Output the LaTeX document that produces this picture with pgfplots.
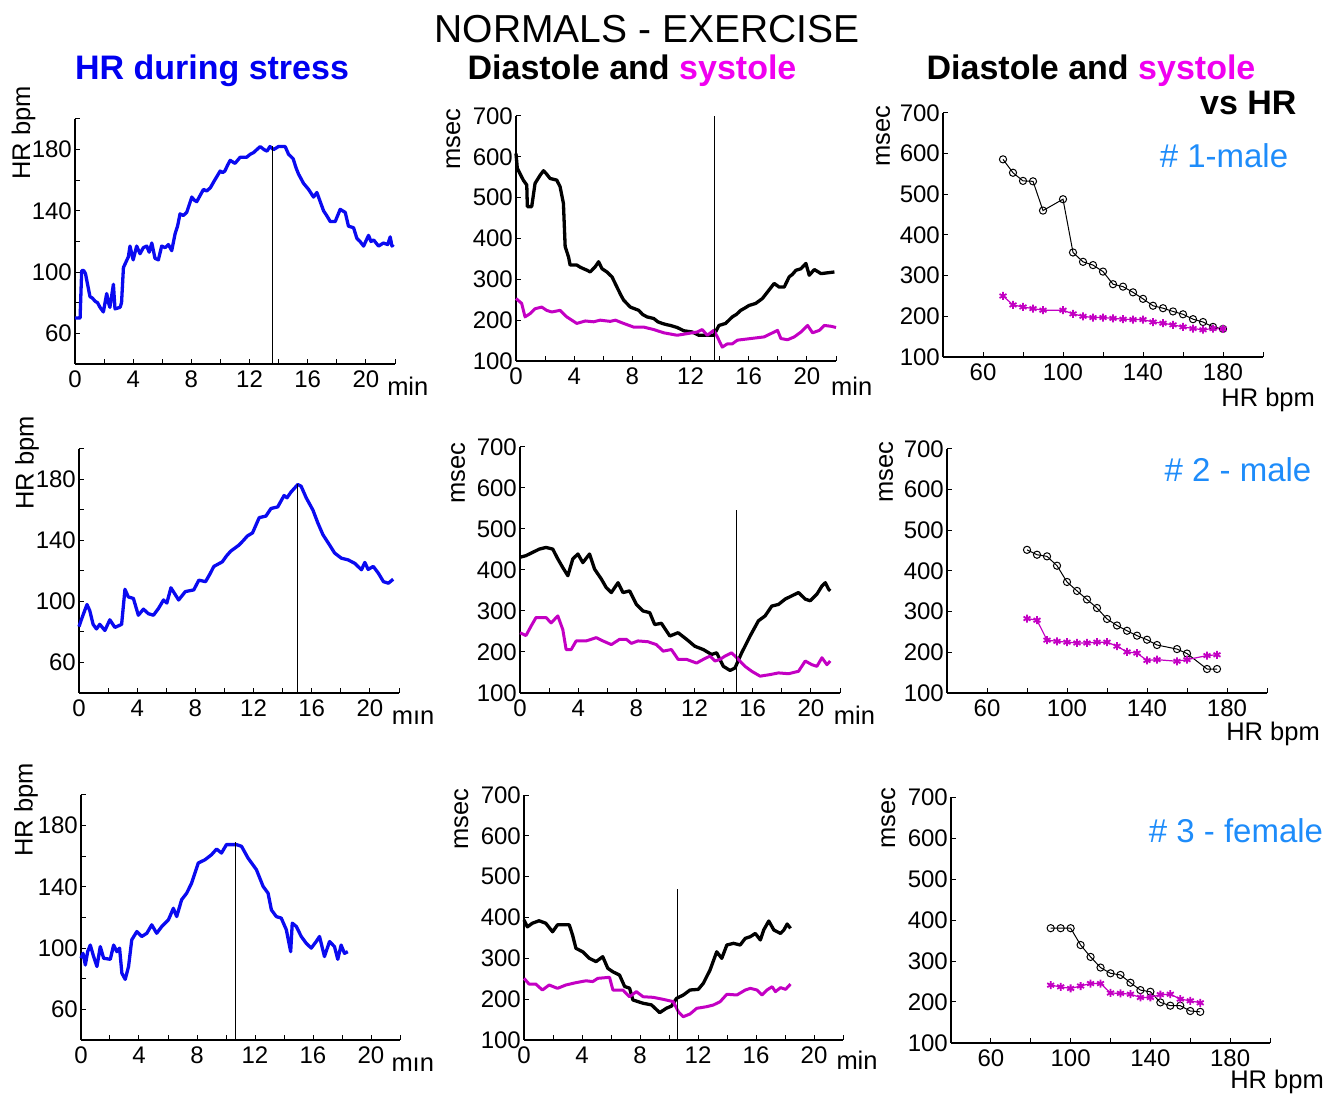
\documentclass[border=0pt]{standalone}
\usepackage{fontspec}
\setmainfont{Liberation Sans}
\usepackage{pgfplots}
\pgfplotsset{compat=1.18}
\definecolor{trblue}{RGB}{10,10,240}
\definecolor{trmag}{RGB}{195,0,195}
\definecolor{labmag}{RGB}{240,0,240}
\definecolor{annblue}{RGB}{30,140,250}
\definecolor{headblue}{RGB}{0,0,240}
\pgfplotsset{
 base/.style={scale only axis, anchor=south west, axis x line=bottom, axis y line=left,
   axis line style={-, line width=1.1pt, black}, tick align=inside,
   major tick length=5pt, minor tick length=5pt, tick style={black, line width=1pt},
   tick label style={font=\fontsize{24}{26}\selectfont},
   /pgf/number format/assume math mode=true,
   xticklabel style={inner sep=0pt, yshift=-7pt},
   yticklabel style={inner sep=0pt, xshift=-3pt},
   label style={font=\fontsize{25.5}{27}\selectfont}, clip=false},
 hr/.style={base, width=320pt, height=245pt, xmin=0, xmax=22, ymin=40, ymax=200,
   xtick={0,4,...,20}, minor xtick={2,6,...,22}, ytick={60,100,140,180}, minor ytick={80,120,160,200}},
 ms/.style={base, width=320pt, height=245pt, xmin=0, xmax=22, ymin=100, ymax=700,
   xtick={0,4,...,20}, minor xtick={2,6,...,22}, ytick={100,200,...,700}},
 vs/.style={base, width=320pt, height=245pt, xmin=40, xmax=200, ymin=100, ymax=700,
   xtick={60,100,140,180}, minor xtick={80,120,160,200}, ytick={100,200,...,700}},
 hrline/.style={trblue, line width=3.3pt, line join=round},
 dline/.style={black, line width=3.3pt, line join=round},
 sline/.style={trmag, line width=3pt, line join=round},
 vline/.style={black, line width=1pt},
 dmark/.style={black, line width=1pt, mark=o, mark size=3.6pt},
 smark/.style={trmag, line width=1.2pt, mark=asterisk, mark size=4pt, every mark/.append style={line width=1.8pt}},
}
\begin{document}
\begin{tikzpicture}
\useasboundingbox (0,0) rectangle (1339pt,1095pt);
% titles
\node[anchor=base, font=\fontsize{39}{42}\selectfont] at (647pt,1052pt) {NORMALS - EXERCISE};
\node[anchor=base, font=\fontsize{34}{36}\selectfont\bfseries, text=headblue] at (212pt,1015pt) {HR during stress};
\node[anchor=base, font=\fontsize{34}{36}\selectfont\bfseries] at (632pt,1015pt) {Diastole and \textcolor{labmag}{systole}};
\node[anchor=base, font=\fontsize{34}{36}\selectfont\bfseries] at (1091pt,1015pt) {Diastole and \textcolor{labmag}{systole}};
\node[anchor=base east, font=\fontsize{34}{36}\selectfont\bfseries] at (1300pt,980pt) {vs HR};
\node[anchor=base, font=\fontsize{33}{36}\selectfont, text=annblue] at (1224pt,927pt) {\# 1-male};
\node[anchor=base, font=\fontsize{33}{36}\selectfont, text=annblue] at (1238pt,613pt) {\# 2 - male};
\node[anchor=base, font=\fontsize{33}{36}\selectfont, text=annblue] at (1236pt,252pt) {\# 3 - female};

% ---------- Row 1 ----------
\begin{axis}[hr, at={(75pt,731pt)},
  xlabel={min}, xlabel style={at={(axis description cs:1.04,-0.13)}, anchor=base},
  ylabel={HR bpm}, ylabel style={at={(axis description cs:-0.14,0.943)}, anchor=base}]
\addplot[hrline] coordinates {(0,70)(0.35,70)(0.46,101)(0.6,101)(0.72,99)(1.03,84)(1.2,83)(1.38,81)(1.55,80)(1.72,77)(1.95,74)(2.18,86)(2.3,80)(2.4,77)(2.64,92)(2.75,76)(3.1,77)(3.2,80)(3.33,103)(3.67,110)(3.78,117)(4.0,108)(4.24,117)(4.47,112)(4.7,116)(4.93,117)(5.1,113)(5.28,119)(5.5,109)(5.73,108)(5.96,117)(6.2,116)(6.42,118)(6.65,114)(6.88,125)(7.05,130)(7.22,138)(7.45,137)(7.68,139)(8.03,149)(8.2,147)(8.37,146)(8.6,150)(8.83,154)(9.05,153)(9.3,155)(9.6,160)(9.98,166)(10.15,165)(10.3,166)(10.5,170)(10.67,173)(11.0,171)(11.35,175)(11.8,175)(12.05,177)(12.27,178)(12.5,180)(12.73,182)(13.0,180)(13.2,179)(13.4,182)(13.65,180)(13.99,182)(14.45,182)(14.68,177)(15.0,174)(15.2,168)(15.37,164)(15.71,158)(16.06,154)(16.4,149)(16.63,152)(16.86,146)(17.09,140)(17.3,137)(17.55,133)(17.89,133)(18.23,141)(18.58,139)(18.8,130)(19.15,129)(19.38,122)(19.6,120)(19.84,117)(20.18,124)(20.35,120)(20.53,121)(20.87,117)(21.2,119)(21.5,118)(21.67,123)(21.79,117)(21.9,118)};
\addplot[vline] coordinates {(13.6,40)(13.6,182.5)};
\end{axis}

\begin{axis}[ms, at={(516pt,734pt)},
  xlabel={min}, xlabel style={at={(axis description cs:1.049,-0.139)}, anchor=base},
  ylabel={msec}, ylabel style={at={(axis description cs:-0.175,0.906)}, anchor=base}]
\addplot[dline] coordinates {(0,608)(0.09,572)(0.5,543)(0.74,531)(0.78,478)(1.08,478)(1.31,535)(1.66,555)(1.89,566)(2.1,558)(2.34,547)(2.8,543)(3.03,527)(3.26,486)(3.38,380)(3.61,355)(3.72,335)(4.18,335)(4.4,330)(4.64,326)(4.9,322)(5.1,318)(5.45,331)(5.68,343)(5.91,326)(6.25,318)(6.6,306)(6.94,281)(7.2,262)(7.4,249)(7.86,232)(8.15,228)(8.44,224)(8.7,214)(9.01,208)(9.47,204)(9.75,196)(10.05,192)(10.35,189)(10.62,187)(11.08,182)(11.54,174)(12.11,171)(12.57,163)(13.15,163)(13.6,163)(13.95,187)(14.41,192)(14.87,208)(15.15,214)(15.45,224)(15.75,230)(16.02,236)(16.48,241)(16.94,253)(17.29,269)(17.75,290)(18.09,281)(18.44,281)(18.78,306)(19.0,312)(19.24,322)(19.59,326)(19.93,339)(20.16,310)(20.51,324)(20.97,314)(21.43,316)(21.89,318)};
\addplot[sline] coordinates {(0,253)(0.39,241)(0.62,208)(0.97,216)(1.31,228)(1.77,232)(2.11,224)(2.46,220)(3.03,224)(3.49,208)(4.18,192)(4.76,198)(5.33,196)(5.79,200)(6.48,197)(6.83,200)(7.4,192)(8.09,183)(8.78,183)(9.47,177)(10.16,169)(11.08,163)(11.77,167)(12.46,171)(12.8,177)(13.15,163)(13.6,175)(13.84,159)(14.18,134)(14.53,142)(14.87,142)(15.22,151)(16.14,155)(17.06,159)(17.98,175)(18.21,155)(18.67,152)(19.13,159)(19.59,171)(20.05,187)(20.39,169)(20.85,175)(21.2,187)(21.66,185)(22.0,182)};
\addplot[vline] coordinates {(13.66,100)(13.66,700)};
\end{axis}

\begin{axis}[vs, at={(943pt,738pt)}, height=244pt,
  xlabel={HR bpm}, xlabel style={at={(axis description cs:1.016,-0.204)}, anchor=base},
  ylabel={msec}, ylabel style={at={(axis description cs:-0.166,0.906)}, anchor=base}]
\addplot[dmark] coordinates {(70,586)(75,553)(80,533)(85,532)(90,460)(100,488)(105,357)(110,334)(115,326)(120,310)(125,279)(130,273)(135,259)(140,243)(145,226)(150,220)(155,212)(160,205)(165,193)(170,186)(175,174)(180,169)};
\addplot[smark] coordinates {(70,250)(75,228)(80,223)(85,219)(90,215)(100,215)(105,206)(110,200)(115,197)(120,197)(125,195)(130,193)(135,192)(140,192)(145,186)(150,183)(155,179)(160,174)(165,170)(170,167)(175,170)(180,169)};
\end{axis}

% ---------- Row 2 ----------
\begin{axis}[hr, at={(79pt,402pt)}, height=244pt,
  xlabel={mın}, xlabel style={at={(axis description cs:1.044,-0.131)}, anchor=base},
  ylabel={HR bpm}, ylabel style={at={(axis description cs:-0.142,0.943)}, anchor=base}]
\addplot[hrline] coordinates {(0,83.5)(0.16,88)(0.39,94)(0.55,98)(0.74,94)(0.97,85)(1.2,82)(1.43,85)(1.78,81)(2.12,88)(2.47,83)(2.93,85)(3.16,108)(3.39,103)(3.74,102)(4.08,91)(4.43,95)(4.77,92)(5.12,91)(5.47,95.5)(5.81,101)(6.04,99)(6.32,109)(6.85,101)(7.31,106.5)(7.89,107.6)(8.24,114)(8.7,113)(9.0,118)(9.27,123)(9.85,126)(10.15,130)(10.43,133)(11.0,137)(11.3,140)(11.58,143)(11.93,145)(12.39,155)(12.85,156)(13.2,161)(13.66,162)(14.1,169.5)(14.3,168)(14.57,171.7)(15.04,176.7)(15.27,175.6)(15.62,168)(16.08,160)(16.42,151.5)(16.77,143.8)(17.23,137)(17.58,131.7)(18.04,128.4)(18.5,127.3)(18.96,125)(19.42,120.8)(19.65,125.6)(19.88,121)(20.23,123)(20.58,118.6)(20.93,113)(21.27,112)(21.6,114.6)};
\addplot[vline] coordinates {(15.04,40)(15.04,177)};
\end{axis}

\begin{axis}[ms, at={(520pt,402pt)}, height=246pt,
  xlabel={min}, xlabel style={at={(axis description cs:1.045,-0.13)}, anchor=base},
  ylabel={msec}, ylabel style={at={(axis description cs:-0.172,0.894)}, anchor=base}]
\addplot[dline] coordinates {(0,431)(0.41,435)(0.87,443)(1.33,451)(1.79,455)(2.25,451)(2.6,427)(2.94,406)(3.29,386)(3.63,427)(3.98,439)(4.32,418)(4.78,439)(5.13,402)(5.59,378)(5.93,357)(6.28,345)(6.74,369)(7.08,345)(7.54,349)(8.0,316)(8.46,300)(8.92,296)(9.26,267)(9.72,270)(10.3,239)(10.87,247)(11.45,231)(12.02,214)(12.6,206)(13.17,194)(13.52,198)(13.98,165)(14.44,155)(14.78,161)(15.24,198)(15.82,239)(16.39,276)(16.85,288)(17.31,312)(17.77,316)(18.23,329)(18.69,337)(19.15,345)(19.61,329)(19.95,325)(20.41,341)(20.76,361)(20.99,369)(21.22,353)(21.33,349)};
\addplot[sline] coordinates {(0,247)(0.41,240)(0.76,263)(1.1,284)(1.79,284)(2.14,271)(2.6,288)(2.94,255)(3.17,206)(3.52,206)(3.86,227)(4.55,227)(5.24,235)(5.7,227)(6.28,218)(6.85,231)(7.31,231)(7.66,221)(8.11,227)(8.8,225)(9.38,218)(9.84,202)(10.41,206)(10.87,182)(11.45,182)(12.14,173)(12.6,182)(13.06,190)(13.4,178)(13.75,182)(14.09,190)(14.55,198)(15.01,182)(15.47,165)(15.93,153)(16.51,141)(17.2,145)(17.77,149)(18.46,147)(19.15,153)(19.61,178)(20.07,169)(20.41,165)(20.76,186)(21.1,169)(21.33,178)};
\addplot[vline] coordinates {(14.9,100)(14.9,547)};
\end{axis}

\begin{axis}[vs, at={(947pt,402pt)}, height=244pt,
  xlabel={HR bpm}, xlabel style={at={(axis description cs:1.019,-0.193)}, anchor=base},
  ylabel={msec}, ylabel style={at={(axis description cs:-0.169,0.906)}, anchor=base}]
\addplot[dmark] coordinates {(80,452)(85,440)(90,436)(95,413)(100,373)(105,351)(110,330)(115,309)(120,282)(125,266)(130,253)(135,241)(140,231)(145,218)(155,208)(160,197)(170,159)(175,159)};
\addplot[smark] coordinates {(80,283)(85,279)(90,230)(95,227)(100,225)(105,223)(110,223)(115,225)(120,225)(125,215)(130,201)(135,198)(140,180)(145,182)(155,178)(160,182)(170,192)(175,194)};
\end{axis}

% ---------- Row 3 ----------
\begin{axis}[hr, at={(81pt,55pt)}, width=319pt,
  xlabel={mın}, xlabel style={at={(axis description cs:1.04,-0.129)}, anchor=base},
  ylabel={HR bpm}, ylabel style={at={(axis description cs:-0.152,0.939)}, anchor=base}]
\addplot[hrline] coordinates {(0,93.4)(0.14,96.6)(0.3,89)(0.46,97.7)(0.64,102)(0.87,94.5)(1.1,88)(1.33,101)(1.56,93.4)(2.02,92.7)(2.25,102)(2.47,97.7)(2.66,100)(2.82,83.6)(3.05,79.6)(3.28,88)(3.5,105.4)(3.85,110.8)(4.19,107.6)(4.54,109.7)(4.88,115.2)(5.22,109.7)(5.57,114.1)(6.03,118.5)(6.37,126)(6.6,120.6)(6.94,131.6)(7.29,135.9)(7.63,142.5)(8.09,155.6)(8.55,157.7)(9.0,161)(9.35,164.7)(9.69,162.1)(10.03,167.6)(10.38,167.6)(10.72,167.6)(11.07,166.5)(11.52,158.8)(12.1,151.2)(12.56,140.3)(12.9,135.9)(13.13,125)(13.47,120.6)(13.81,119.6)(14.16,112)(14.46,97.7)(14.57,116.3)(14.85,114.1)(15.19,107.6)(15.53,103.2)(15.88,100)(16.22,104.3)(16.45,107.6)(16.79,94.5)(17.14,104.3)(17.48,101)(17.71,92.7)(17.94,102)(18.17,96.6)(18.4,97.7)};
\addplot[vline] coordinates {(10.63,40)(10.63,169)};
\end{axis}

\begin{axis}[ms, at={(524pt,55pt)}, width=319pt,
  xlabel={min}, xlabel style={at={(axis description cs:1.044,-0.122)}, anchor=base},
  ylabel={msec}, ylabel style={at={(axis description cs:-0.175,0.902)}, anchor=base}]
\addplot[dline] coordinates {(0,394)(0.23,377)(0.58,386)(1.04,392)(1.5,386)(1.97,365)(2.31,382)(3.12,382)(3.35,357)(3.58,324.5)(4.05,316)(4.51,300)(4.97,292)(5.43,304)(5.78,275.5)(6.13,267)(6.59,259)(6.94,231)(7.28,227)(7.51,198)(8.21,190)(8.79,186)(9.36,167)(9.83,178)(10.17,183)(10.52,202)(10.98,210)(11.45,222.4)(12.02,224)(12.37,239)(12.83,271.4)(13.29,316)(13.64,300)(13.99,332.7)(14.45,336.7)(14.91,332.7)(15.26,349)(15.61,353)(15.95,361)(16.3,345)(16.53,369.4)(16.88,391.4)(17.23,369.4)(17.69,361)(17.92,369.4)(18.15,384)(18.38,373.5)};
\addplot[sline] coordinates {(0,251)(0.35,237)(0.81,237)(1.27,222.4)(1.73,234.7)(2.31,226.5)(2.89,234.7)(3.58,240.4)(4.28,245)(4.74,243)(5.09,251)(5.9,253.5)(6.13,222.4)(6.82,222.4)(7.28,206)(7.75,218.4)(8.21,206)(8.9,204.5)(9.6,199.6)(10.29,194)(10.64,169.4)(10.98,157)(11.45,163.7)(11.91,177.6)(12.6,181.6)(13.06,185.7)(13.53,194)(13.99,212)(14.68,210.2)(15.26,222.4)(15.61,226.5)(16.07,222.4)(16.42,210.2)(16.76,222.4)(17.11,230.6)(17.34,218.4)(17.69,228.2)(18.04,224)(18.38,237)};
\addplot[vline] coordinates {(10.59,100)(10.59,471)};
\end{axis}

\begin{axis}[vs, at={(951pt,52pt)}, width=319pt, height=246pt,
  xlabel={HR bpm}, xlabel style={at={(axis description cs:1.022,-0.183)}, anchor=base},
  ylabel={msec}, ylabel style={at={(axis description cs:-0.175,0.915)}, anchor=base}]
\addplot[dmark] coordinates {(90,380)(95,380)(100,380)(105,339)(110,310)(115,284)(120,270)(125,266)(130,247)(135,229)(140,225)(145,199)(150,191)(155,191)(160,178)(165,176)};
\addplot[smark] coordinates {(90,241)(95,237)(100,233)(105,239)(110,245)(115,245)(120,222)(125,221)(130,219)(135,211)(140,211)(145,218)(150,219)(155,207)(160,203)(165,198)};
\end{axis}
\end{tikzpicture}
\end{document}
